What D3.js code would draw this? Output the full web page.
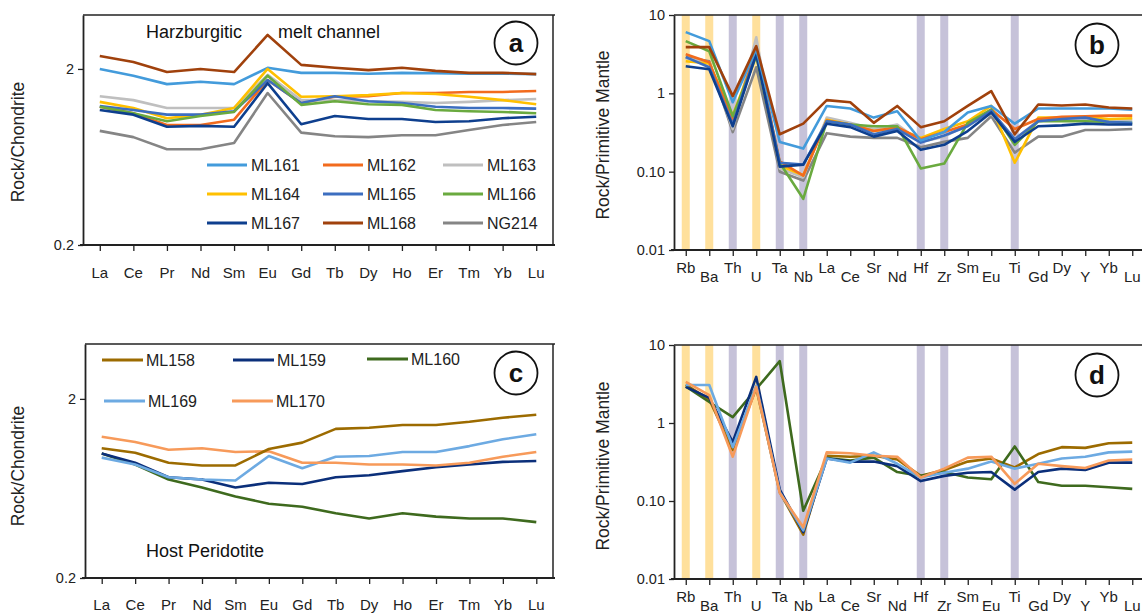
<!DOCTYPE html>
<html><head><meta charset="utf-8">
<script src="https://cdn.jsdelivr.net/npm/d3@7"></script>
<style>body{margin:0;background:#fff}svg{display:block}</style>
</head><body>
<script>
// ---------- DATA ----------
const ree = ["La","Ce","Pr","Nd","Sm","Eu","Gd","Tb","Dy","Ho","Er","Tm","Yb","Lu"];
const spider = ["Rb","Ba","Th","U","Ta","Nb","La","Ce","Sr","Nd","Hf","Zr","Sm","Eu","Ti","Gd","Dy","Y","Yb","Lu"];
const lilBands = ["Rb","Ba","U"];
const hfseBands = ["Th","Ta","Nb","Hf","Zr","Ti"];
const chondriteTicks = [0.2, 2];
const mantleTicks = [0.01, 0.1, 1, 10];
const mantleTickLabels = ["0.01","0.10","1","10"];

const channelNames = ["ML161","ML162","ML163","ML164","ML165","ML166","ML167","ML168","NG214"];
const channelColors = ["#439BDB","#F26B1D","#BFBFBF","#FFC000","#3C6EC0","#6AAA3F","#0E3F8E","#A0410C","#858585"];
// Panel a: chondrite-normalized REE
const aML161 = [2.00,1.83,1.64,1.69,1.64,2.03,1.90,1.90,1.88,1.90,1.89,1.88,1.88,1.87];
const aML162 = [1.22,1.12,0.96,0.96,1.03,1.73,1.28,1.39,1.40,1.46,1.46,1.48,1.48,1.50];
const aML163 = [1.40,1.33,1.20,1.20,1.20,1.85,1.33,1.33,1.31,1.30,1.28,1.30,1.33,1.35];
const aML164 = [1.30,1.20,1.05,1.10,1.20,2.00,1.39,1.40,1.42,1.46,1.44,1.39,1.33,1.26];
const aML165 = [1.23,1.17,1.10,1.10,1.15,1.73,1.28,1.40,1.31,1.28,1.22,1.20,1.20,1.19];
const aML166 = [1.22,1.12,1.01,1.08,1.14,1.83,1.25,1.31,1.26,1.25,1.17,1.15,1.14,1.12];
const aML167 = [1.17,1.10,0.94,0.95,0.94,1.66,0.97,1.08,1.04,1.04,1.00,1.01,1.05,1.07];
const aML168 = [2.37,2.19,1.92,2.00,1.92,3.12,2.11,2.03,1.97,2.03,1.95,1.90,1.90,1.87];
const aNG214 = [0.89,0.82,0.70,0.70,0.76,1.46,0.87,0.83,0.82,0.84,0.84,0.90,0.96,1.00];
// Panel b: primitive-mantle-normalized
const bML161 = [6.05,4.64,0.77,3.67,0.24,0.197,0.69,0.64,0.49,0.59,0.25,0.32,0.57,0.69,0.41,0.64,0.64,0.64,0.64,0.62];
const bML162 = [3.16,2.50,0.45,3.50,0.135,0.089,0.45,0.40,0.33,0.37,0.26,0.32,0.40,0.62,0.35,0.47,0.50,0.51,0.52,0.52];
const bML163 = [2.80,2.50,0.35,5.20,0.11,0.085,0.49,0.42,0.35,0.40,0.24,0.28,0.40,0.55,0.26,0.45,0.46,0.46,0.45,0.46];
const bML164 = [2.57,2.40,0.52,3.20,0.12,0.090,0.46,0.40,0.33,0.36,0.27,0.35,0.44,0.69,0.13,0.49,0.49,0.50,0.47,0.48];
const bML165 = [2.90,2.15,0.40,3.30,0.13,0.123,0.44,0.40,0.30,0.35,0.235,0.29,0.38,0.60,0.26,0.44,0.47,0.49,0.43,0.42];
const bML166 = [4.64,3.45,0.51,2.98,0.13,0.045,0.44,0.40,0.38,0.38,0.11,0.127,0.42,0.62,0.22,0.44,0.44,0.44,0.43,0.42];
const bML167 = [2.22,2.03,0.38,3.16,0.116,0.123,0.41,0.37,0.28,0.33,0.19,0.22,0.33,0.57,0.24,0.38,0.39,0.41,0.40,0.40];
const bML168 = [3.89,3.89,0.92,4.00,0.30,0.41,0.82,0.77,0.42,0.69,0.37,0.44,0.69,1.07,0.30,0.72,0.70,0.72,0.66,0.64];
const bNG214 = [2.90,2.57,0.32,2.15,0.10,0.077,0.31,0.28,0.27,0.27,0.205,0.24,0.27,0.51,0.175,0.28,0.28,0.34,0.34,0.35];

const hostNames = ["ML158","ML159","ML160","ML169","ML170"];
const hostColors = ["#9C6B00","#0B2F7A","#3E6A1E","#6DAAE2","#F79A5A"];
// Panel c: chondrite-normalized REE
const cML158 = [1.06,1.00,0.88,0.85,0.85,1.05,1.14,1.36,1.38,1.43,1.43,1.49,1.57,1.63];
const cML159 = [0.99,0.88,0.73,0.71,0.64,0.68,0.67,0.73,0.75,0.79,0.83,0.86,0.89,0.90];
const cML160 = [0.99,0.86,0.71,0.64,0.57,0.52,0.50,0.46,0.43,0.46,0.44,0.43,0.43,0.41];
const cML169 = [0.94,0.86,0.73,0.71,0.70,0.96,0.82,0.95,0.96,1.01,1.01,1.09,1.19,1.27];
const cML170 = [1.23,1.15,1.04,1.06,1.01,1.02,0.88,0.88,0.86,0.86,0.85,0.88,0.95,1.01];
// Panel d: primitive-mantle-normalized
const dML158 = [3.10,2.00,0.45,2.80,0.13,0.037,0.38,0.37,0.38,0.34,0.21,0.25,0.32,0.35,0.27,0.40,0.49,0.48,0.55,0.56];
const dML159 = [2.90,2.10,0.57,3.90,0.14,0.040,0.35,0.32,0.32,0.28,0.18,0.21,0.23,0.235,0.14,0.235,0.26,0.25,0.31,0.31];
const dML160 = [2.95,1.86,1.19,2.73,6.20,0.075,0.355,0.33,0.36,0.235,0.21,0.235,0.20,0.19,0.50,0.175,0.157,0.157,0.15,0.143];
const dML169 = [3.07,3.07,0.49,3.00,0.13,0.042,0.35,0.31,0.42,0.30,0.20,0.23,0.26,0.32,0.26,0.30,0.35,0.37,0.42,0.43];
const dML170 = [3.36,2.28,0.37,2.90,0.127,0.046,0.42,0.41,0.38,0.37,0.20,0.26,0.36,0.37,0.166,0.30,0.28,0.265,0.33,0.34];

// ---------- DRAW ----------
const W = 1142, H = 615;
const FONT = "'Liberation Sans', Arial, sans-serif";
const svg = d3.select("body").append("svg").attr("width", W).attr("height", H)
  .style("font-family", FONT);

function panel(cfg) {
  const g = svg.append("g");
  const x = d3.scalePoint().domain(cfg.cats).range([cfg.left, cfg.right]).padding(0.5);
  const y = d3.scaleLog().domain(cfg.ydom).range([cfg.bottom, cfg.top]);
  const step = x.step();

  if (cfg.bands) {
    g.selectAll("rect.lil").data(lilBands).enter().append("rect")
      .attr("x", d => x(d) - 4).attr("width", 8)
      .attr("y", cfg.top).attr("height", cfg.bottom - cfg.top)
      .attr("fill", "#FFE09C");
    g.selectAll("rect.hfse").data(hfseBands).enter().append("rect")
      .attr("x", d => x(d) - 4).attr("width", 8)
      .attr("y", cfg.top).attr("height", cfg.bottom - cfg.top)
      .attr("fill", "#C6C2D9");
  }

  // frame
  g.append("line").attr("x1", cfg.left).attr("x2", cfg.right + 2).attr("y1", cfg.top).attr("y2", cfg.top)
    .attr("stroke", "#222").attr("stroke-width", 1.5);
  if (cfg.rightBorder) {
    g.append("line").attr("x1", cfg.right).attr("x2", cfg.right).attr("y1", cfg.top).attr("y2", cfg.bottom)
      .attr("stroke", "#222").attr("stroke-width", 1.5);
  }

  // series
  const line = d3.line().x((d, i) => x(cfg.cats[i])).y(d => y(d));
  cfg.series.forEach((s, i) => {
    g.append("path").datum(s).attr("d", line).attr("fill", "none")
      .attr("stroke", cfg.colors[i]).attr("stroke-width", 2.6).attr("stroke-linejoin", "round");
  });

  // y axis
  const ya = d3.axisLeft(y).tickValues(cfg.yticks).tickSize(5).tickSizeOuter(0)
    .tickFormat((d, i) => cfg.ylabels[i]);
  const yg = g.append("g").attr("transform", `translate(${cfg.left},0)`).call(ya);
  yg.select(".domain").attr("stroke", "#222").attr("stroke-width", 1.8);
  yg.selectAll(".tick line").attr("stroke", "#222").attr("stroke-width", 1.3);
  yg.selectAll(".tick text").attr("font-size", 14.5).attr("fill", "#222").attr("x", -9)
    .style("font-family", FONT);

  // x axis
  const xa = d3.axisBottom(x).tickSize(6).tickSizeOuter(0).tickFormat("");
  const xg = g.append("g").attr("transform", `translate(0,${cfg.bottom})`).call(xa);
  xg.select(".domain").attr("stroke", "#222").attr("stroke-width", 2).attr("d", `M${cfg.left - 3},0H${cfg.right + 2}`);
  xg.selectAll(".tick line").attr("stroke", "#222").attr("stroke-width", 1.3);

  g.selectAll("text.xl").data(cfg.cats).enter().append("text")
    .attr("x", d => x(d)).attr("y", (d, i) => cfg.stagger ? (i % 2 ? cfg.labY + 9 : cfg.labY) : cfg.labY)
    .attr("text-anchor", "middle").attr("font-size", 15).attr("fill", "#222").text(d => d);

  // y title
  g.append("text").attr("transform", `translate(${cfg.titleX},${cfg.titleY}) rotate(-90)`)
    .attr("text-anchor", "middle").attr("font-size", 17.5).attr("fill", "#222").text(cfg.ytitle);

  // panel letter
  g.append("circle").attr("cx", cfg.cx).attr("cy", cfg.cy).attr("r", 21.5)
    .attr("fill", "#fff").attr("stroke", "#111").attr("stroke-width", 1.8);
  g.append("text").attr("x", cfg.cx).attr("y", cfg.cy + 9).attr("text-anchor", "middle")
    .attr("font-size", 26).attr("font-weight", "bold").attr("fill", "#111").text(cfg.letter);
  return {g, x, y};
}

// Panel a
const pa = panel({
  left: 83, right: 553, top: 15, bottom: 245, cats: ree, ydom: [0.2, 4.05],
  yticks: chondriteTicks, ylabels: ["0.2", "2"], ytitle: "Rock/Chondrite", titleX: 24, titleY: 142,
  series: [aML161, aML162, aML163, aML164, aML165, aML166, aML167, aNG214, aML168],
  colors: [channelColors[0], channelColors[1], channelColors[2], channelColors[3], channelColors[4], channelColors[5], channelColors[6], channelColors[8], channelColors[7]],
  labY: 278, stagger: false, rightBorder: true, cx: 516, cy: 43, letter: "a"
});
pa.g.append("text").attr("y", 38).attr("font-size", 18).attr("fill", "#111")
  .selectAll("tspan").data([["Harzburgitic", 146], ["melt channel", 278]]).enter().append("tspan")
  .attr("x", d => d[1]).text(d => d[0]);

// legend a
const legA = [[207, 165], [323, 165], [443, 165], [207, 194], [323, 194], [443, 194], [207, 223], [323, 223], [443, 223]];
channelNames.forEach((n, i) => {
  const [lx, ly] = legA[i];
  pa.g.append("line").attr("x1", lx).attr("x2", lx + 40).attr("y1", ly).attr("y2", ly)
    .attr("stroke", channelColors[i]).attr("stroke-width", 3);
  pa.g.append("text").attr("x", lx + 44).attr("y", ly + 6).attr("font-size", 16).attr("fill", "#222").text(n);
});

// Panel b
panel({
  left: 674, right: 1144, top: 15, bottom: 250, cats: spider, ydom: [0.01, 10],
  yticks: mantleTicks, ylabels: mantleTickLabels, ytitle: "Rock/Primitive Mantle", titleX: 609, titleY: 135,
  series: [bNG214, bML163, bML164, bML162, bML166, bML165, bML167, bML161, bML168],
  colors: [channelColors[8], channelColors[2], channelColors[3], channelColors[1], channelColors[5], channelColors[4], channelColors[6], channelColors[0], channelColors[7]],
  labY: 273, stagger: true, bands: true, cx: 1097, cy: 45, letter: "b"
});

// Panel c
const pc = panel({
  left: 85, right: 553, top: 344, bottom: 578, cats: ree, ydom: [0.2, 4.05],
  yticks: chondriteTicks, ylabels: ["0.2", "2"], ytitle: "Rock/Chondrite", titleX: 24, titleY: 466,
  series: [cML160, cML159, cML169, cML170, cML158],
  colors: [hostColors[2], hostColors[1], hostColors[3], hostColors[4], hostColors[0]],
  labY: 610, stagger: false, rightBorder: true, cx: 516, cy: 373, letter: "c"
});
pc.g.append("text").attr("x", 146).attr("y", 557).attr("font-size", 18).attr("fill", "#111").text("Host Peridotite");
const legC = [[102, 360], [233, 360], [367, 359], [104, 401], [232, 401]];
hostNames.forEach((n, i) => {
  const [lx, ly] = legC[i];
  pc.g.append("line").attr("x1", lx).attr("x2", lx + 41).attr("y1", ly).attr("y2", ly)
    .attr("stroke", hostColors[i]).attr("stroke-width", 3);
  pc.g.append("text").attr("x", lx + 44).attr("y", ly + 6).attr("font-size", 16).attr("fill", "#222").text(n);
});

// Panel d
panel({
  left: 674, right: 1144, top: 345, bottom: 579, cats: spider, ydom: [0.01, 10],
  yticks: mantleTicks, ylabels: mantleTickLabels, ytitle: "Rock/Primitive Mantle", titleX: 609, titleY: 466,
  series: [dML158, dML160, dML159, dML169, dML170],
  colors: [hostColors[0], hostColors[2], hostColors[1], hostColors[3], hostColors[4]],
  labY: 602, stagger: true, bands: true, cx: 1097, cy: 375, letter: "d"
});
</script>
</body></html>
